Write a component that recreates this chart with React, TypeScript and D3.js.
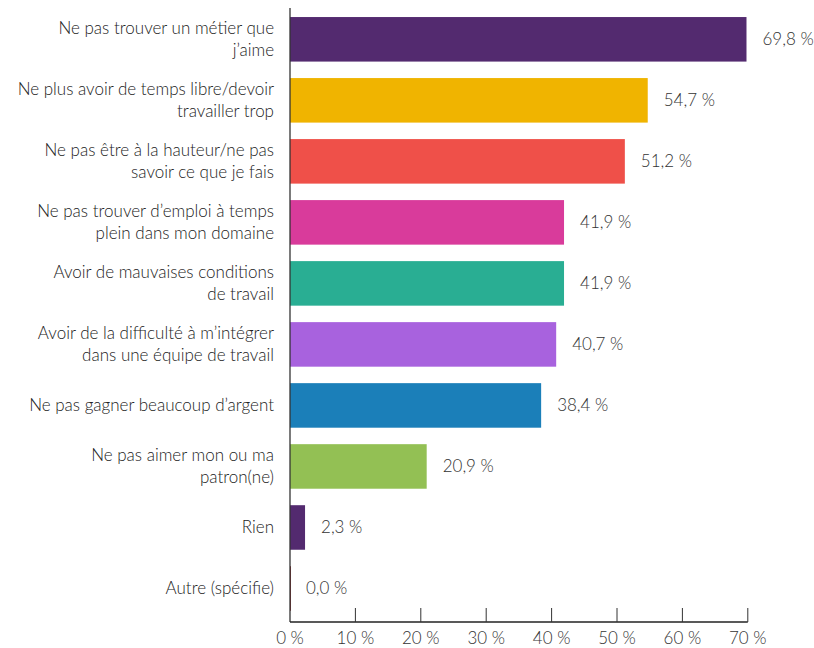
import React from "react";
import * as d3 from "d3";

const categories: string[][] = [
  ["Ne pas trouver un métier que", "j’aime"],
  ["Ne plus avoir de temps libre/devoir", "travailler trop"],
  ["Ne pas être à la hauteur/ne pas", "savoir ce que je fais"],
  ["Ne pas trouver d’emploi à temps", "plein dans mon domaine"],
  ["Avoir de mauvaises conditions", "de travail"],
  ["Avoir de la difficulté à m’intégrer", "dans une équipe de travail"],
  ["Ne pas gagner beaucoup d’argent"],
  ["Ne pas aimer mon ou ma", "patron(ne)"],
  ["Rien"],
  ["Autre (spécifie)"],
];
const values: number[] = [69.8, 54.7, 51.2, 41.9, 41.9, 40.7, 38.4, 20.9, 2.3, 0.0];
const colors: string[] = [
  "#532A6F", "#F0B400", "#EF5049", "#D93B9B", "#29AE93",
  "#A862DE", "#1B7FB9", "#93C054", "#532A6F", "#8B2E2E",
];
const ticks: number[] = [0, 10, 20, 30, 40, 50, 60, 70];

const W = 814;
const H = 648;
const FONT = "Lato, 'Source Sans Pro', 'Noto Sans', sans-serif";

export default function App() {
  const x = d3.scaleLinear().domain([0, 70]).range([290, 747.8]);
  const y = d3
    .scaleBand<number>()
    .domain(values.map((_, i) => i))
    .range([8.8, 619])
    .paddingInner(0.27)
    .paddingOuter(0.135);
  const fmt = (v: number) => d3.format(".1f")(v).replace(".", ",") + " %";
  const axisY = 622;
  return (
    <svg
      width={W}
      height={H}
      style={{ position: "absolute", left: 0, top: 0, background: "#fff" }}
      fontFamily={FONT}
    >
      {values.map((v, i) => {
        const by = y(i)!;
        const bw = y.bandwidth();
        const cy = by + bw / 2;
        const lines = categories[i];
        const lh = 22;
        return (
          <g key={i}>
            <rect
              x={x(0)}
              y={by}
              width={Math.max(x(v) - x(0), v === 0 ? 1 : 0)}
              height={bw}
              fill={colors[i]}
            />
            <text
              x={x(v) + 16}
              y={cy}
              dy="0.35em"
              fontSize={17}
              fontWeight={300}
              fill="#333"
            >
              {fmt(v)}
            </text>
            <text
              x={274}
              y={cy - ((lines.length - 1) * lh) / 2}
              textAnchor="end"
              fontSize={17}
              fontWeight={300}
              fill="#222"
            >
              {lines.map((l, j) => (
                <tspan key={j} x={274} dy={j === 0 ? "0.35em" : lh}>
                  {l}
                </tspan>
              ))}
            </text>
          </g>
        );
      })}
      <line x1={x(0)} x2={x(0)} y1={8} y2={axisY} stroke="#333" strokeWidth={1.3} />
      <line x1={x(0)} x2={x(70)} y1={axisY} y2={axisY} stroke="#222" strokeWidth={1.3} />
      {ticks.map((t) => (
        <g key={t}>
          {t > 0 && (
            <line x1={x(t)} x2={x(t)} y1={axisY - 14} y2={axisY} stroke="#333" strokeWidth={1} />
          )}
          <text
            x={x(t)}
            y={638}
            dy="0.35em"
            textAnchor="middle"
            fontSize={17}
            fontWeight={300}
            fill="#333"
          >
            {t + " %"}
          </text>
        </g>
      ))}
    </svg>
  );
}
